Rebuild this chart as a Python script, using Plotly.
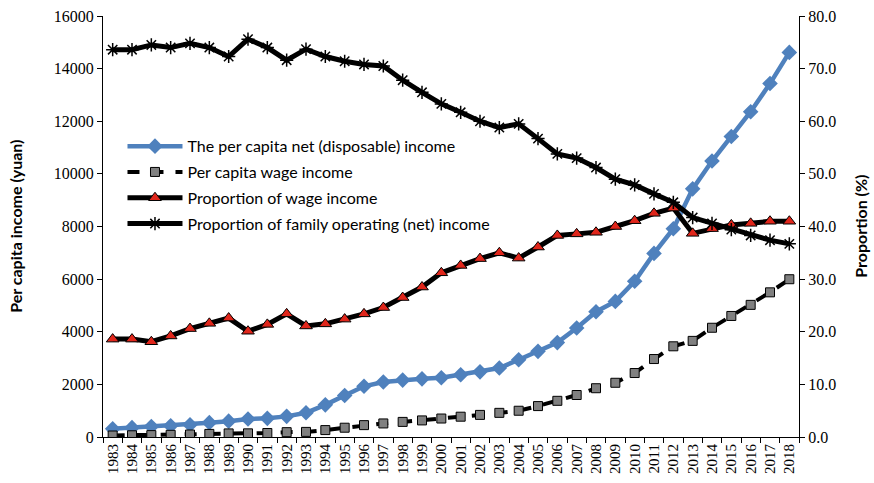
import plotly.graph_objects as go

years = [str(y) for y in range(1983, 2019)]

net_income = [310, 355, 398, 424, 463, 545, 602, 686, 709, 784, 922, 1221, 1578, 1926,
              2090, 2162, 2210, 2253, 2366, 2476, 2622, 2936, 3255, 3587, 4140, 4761,
              5153, 5919, 6977, 7917, 9430, 10489, 11422, 12363, 13432, 14617]

wage_income = [57, 65, 72, 82, 95, 118, 136, 139, 152, 184, 194, 263, 353, 451,
               515, 574, 630, 702, 772, 840, 918, 998, 1175, 1375, 1596, 1854,
               2061, 2431, 2963, 3447, 3653, 4152, 4600, 5022, 5498, 5996]

wage_share = [18.6, 18.6, 18.1, 19.2, 20.6, 21.6, 22.6, 20.1, 21.4, 23.4, 21.1, 21.5,
              22.4, 23.4, 24.6, 26.5, 28.5, 31.2, 32.6, 33.9, 35.0, 34.0, 36.1, 38.3,
              38.6, 38.9, 40.0, 41.1, 42.5, 43.5, 38.7, 39.6, 40.3, 40.6, 41.0, 41.0]

family_share = [73.6, 73.6, 74.5, 74.0, 74.8, 74.0, 72.3, 75.6, 74.0, 71.6, 73.7, 72.3,
                71.4, 70.8, 70.5, 67.8, 65.5, 63.3, 61.7, 60.0, 58.8, 59.5, 56.7, 53.8,
                53.0, 51.2, 49.0, 47.9, 46.2, 44.6, 41.7, 40.6, 39.4, 38.3, 37.4, 36.7]

names = ["The per capita net (disposable) income",
         "Per capita wage income",
         "Proportion of wage income",
         "Proportion of family operating (net) income"]

left_title = "Per capita income (yuan)"
right_title = "Proportion (%)"

fig = go.Figure()
fig.add_trace(go.Scatter(
    x=years, y=net_income, name=names[0], mode="lines+markers", legendgroup="a",
    line=dict(color="#4F81BD", width=4.5),
    marker=dict(symbol="diamond", size=12, color="#4F81BD"),
    yaxis="y"))
fig.add_trace(go.Scatter(
    x=years, y=wage_income, name=names[1], mode="lines+markers", legendgroup="b",
    line=dict(color="black", width=4, dash="dash"),
    marker=dict(symbol="square", size=9, color="#808080", line=dict(color="black", width=1)),
    yaxis="y"))
fig.add_trace(go.Scatter(
    x=years, y=wage_share, name=names[2], mode="lines+markers", legendgroup="c",
    line=dict(color="black", width=5),
    marker=dict(symbol="triangle-up", size=11, color="#E0261B", line=dict(color="black", width=1)),
    yaxis="y2"))
fig.add_trace(go.Scatter(
    x=years, y=family_share, name=names[3], mode="lines+markers", legendgroup="d",
    line=dict(color="black", width=5),
    marker=dict(symbol="asterisk-open", size=11, color="black", line=dict(color="black", width=1.5)),
    yaxis="y2"))

serif = "Liberation Serif"
sans = "Lato"

fig.update_layout(
    width=874, height=483,
    margin=dict(l=103, r=75, t=16, b=46),
    paper_bgcolor="white", plot_bgcolor="white",
    showlegend=True,
    legend=dict(x=0.028, y=0.731, xanchor="left", yanchor="top",
                bgcolor="rgba(0,0,0,0)", font=dict(family=sans, size=16, color="black"),
                tracegroupgap=2, itemwidth=55),
    xaxis=dict(type="category", range=[-0.5, 35.5], automargin=False,
               showline=True, linecolor="black", linewidth=1,
               ticks="outside", ticklen=5, tickcolor="black", tickson="boundaries",
               tickangle=-90, tickfont=dict(family=serif, size=15, color="black"),
               showgrid=False, zeroline=False),
    yaxis=dict(range=[0, 16000], dtick=2000, tickformat="d", automargin=False,
               showline=True, linecolor="black", linewidth=1,
               ticks="outside", ticklen=5, tickcolor="black", showgrid=False, zeroline=False,
               tickfont=dict(family=serif, size=16, color="black")),
    yaxis2=dict(range=[0, 80], dtick=10, tickformat=".1f", overlaying="y", side="right",
                automargin=False,
                showline=True, linecolor="black", linewidth=1, ticks="outside", ticklen=5,
                tickcolor="black", showgrid=False, zeroline=False,
                tickfont=dict(family=serif, size=16, color="black")),
    annotations=[
        dict(text="<b>" + left_title + "</b>", xref="paper", yref="paper",
             x=-0.126, y=0.5, xanchor="center", yanchor="middle", textangle=-90,
             showarrow=False, font=dict(family=sans, size=16, color="black")),
        dict(text="<b>" + right_title + "</b>", xref="paper", yref="paper",
             x=1.088, y=0.5, xanchor="center", yanchor="middle", textangle=-90,
             showarrow=False, font=dict(family=sans, size=16, color="black")),
    ],
)

fig.write_html("out.html", config={"displayModeBar": False},
               post_script="document.body.style.margin='0';document.body.style.overflow='hidden';")
